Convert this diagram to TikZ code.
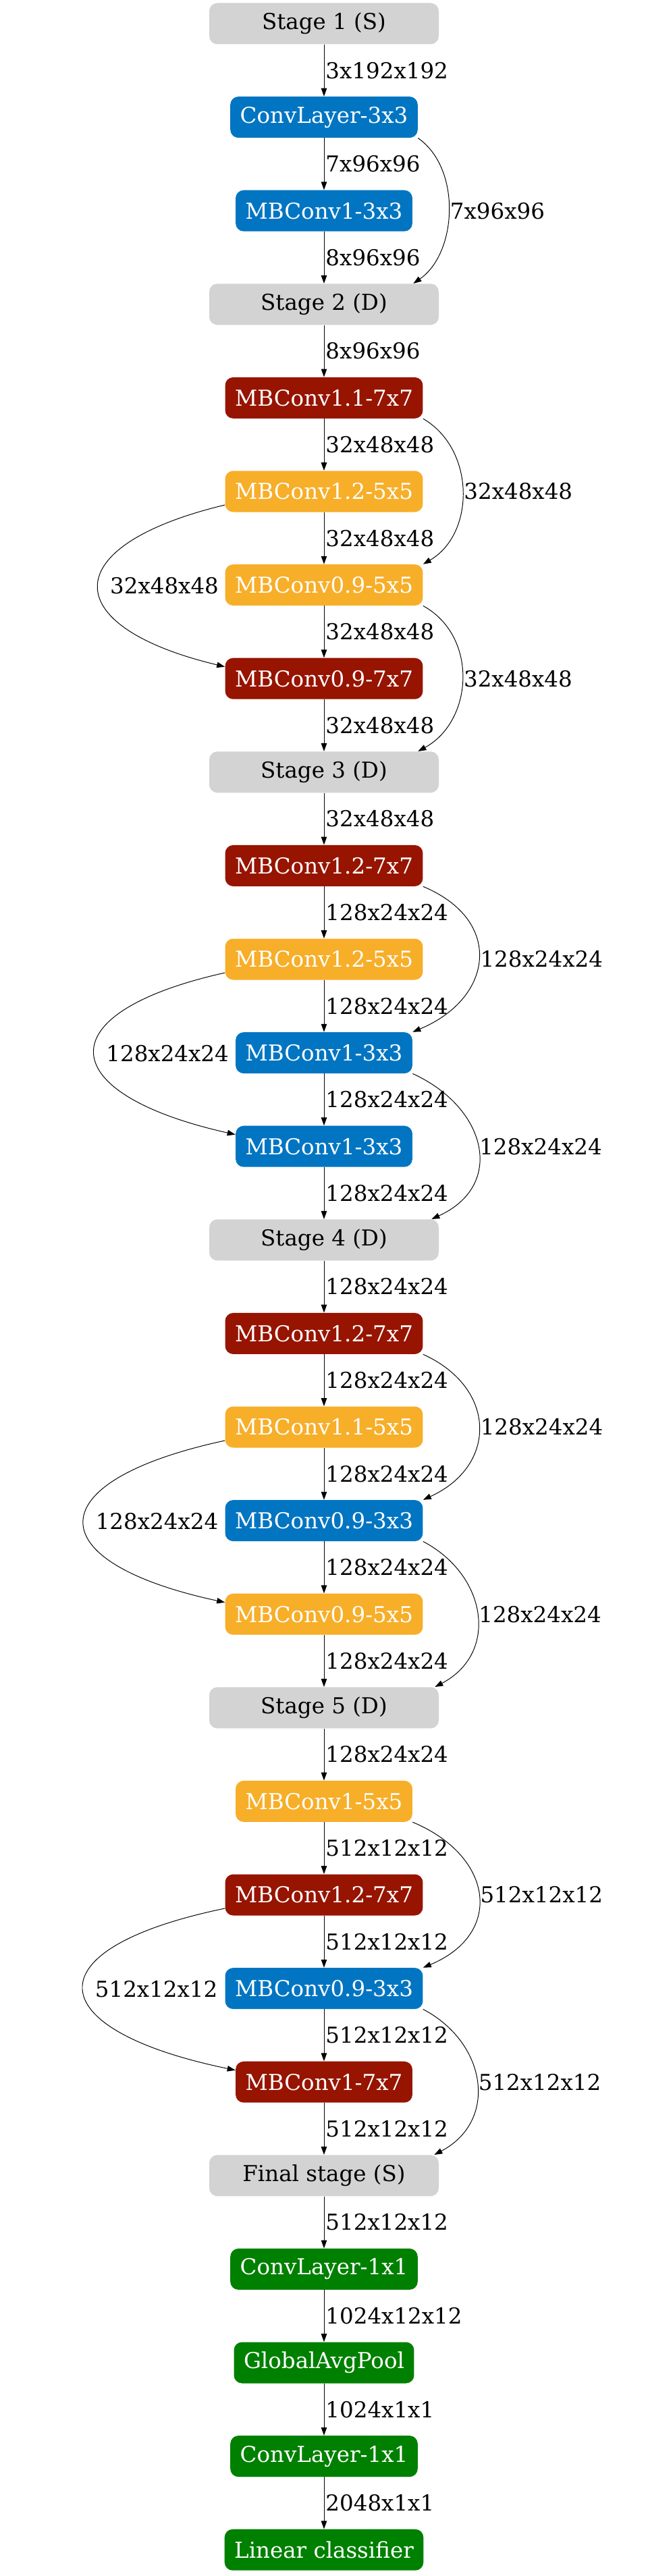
\documentclass[tikz,border=0pt]{standalone}
\usepackage{fontspec}
\setmainfont{DejaVu Serif}
\usepackage{xcolor}
\usepackage{tikz}
\definecolor{stagegray}{RGB}{211, 211, 211}
\definecolor{convblue}{RGB}{2, 117, 194}
\definecolor{convred}{RGB}{150, 20, 0}
\definecolor{convorange}{RGB}{247, 174, 41}
\definecolor{headgreen}{RGB}{0, 128, 0}
\usetikzlibrary{arrows.meta,positioning,calc}

\begin{document}
\begin{tikzpicture}[
    stage/.style={
        rectangle,
        rounded corners=0.24cm,
        minimum width=6.8cm,
        minimum height=1.22cm,
        fill=stagegray,
        font=\fontsize{18.5}{22}\selectfont
    },
    block/.style={
        rectangle,
        rounded corners=0.24cm,
        minimum height=1.22cm,
        inner xsep=0.29cm,
        text=white,
        font=\fontsize{18.5}{22}\selectfont
    },
    flow/.style={-{Triangle[length=0.24cm,width=0.17cm]}, line width=0.55pt},
    dims/.style={inner sep=0.04cm, font=\fontsize{18.5}{22}\selectfont}
]
    \useasboundingbox (0,0) rectangle (19.2,-76.32);

    % Stage 1
    \node[stage] (s1) at (9.6,-0.7) {Stage 1 (S)};
    \node[block, fill=convblue] (conv3) at (9.6,-3.472) {ConvLayer-3x3};
    \node[block, fill=convblue] (mb2) at (9.6,-6.244) {MBConv1-3x3};

    % Stage 2
    \node[stage] (s2) at (9.6,-9.016) {Stage 2 (D)};
    \node[block, fill=convred] (mb4) at (9.6,-11.788) {MBConv1.1-7x7};
    \node[block, fill=convorange] (mb5) at (9.6,-14.56) {MBConv1.2-5x5};
    \node[block, fill=convorange] (mb6) at (9.6,-17.332) {MBConv0.9-5x5};
    \node[block, fill=convred] (mb7) at (9.6,-20.104) {MBConv0.9-7x7};

    % Stage 3
    \node[stage] (s3) at (9.6,-22.876) {Stage 3 (D)};
    \node[block, fill=convred] (mb9) at (9.6,-25.648) {MBConv1.2-7x7};
    \node[block, fill=convorange] (mb10) at (9.6,-28.42) {MBConv1.2-5x5};
    \node[block, fill=convblue] (mb11) at (9.6,-31.192) {MBConv1-3x3};
    \node[block, fill=convblue] (mb12) at (9.6,-33.964) {MBConv1-3x3};

    % Stage 4
    \node[stage] (s4) at (9.6,-36.736) {Stage 4 (D)};
    \node[block, fill=convred] (mb14) at (9.6,-39.508) {MBConv1.2-7x7};
    \node[block, fill=convorange] (mb15) at (9.6,-42.28) {MBConv1.1-5x5};
    \node[block, fill=convblue] (mb16) at (9.6,-45.052) {MBConv0.9-3x3};
    \node[block, fill=convorange] (mb17) at (9.6,-47.824) {MBConv0.9-5x5};

    % Stage 5
    \node[stage] (s5) at (9.6,-50.596) {Stage 5 (D)};
    \node[block, fill=convorange] (mb19) at (9.6,-53.368) {MBConv1-5x5};
    \node[block, fill=convred] (mb20) at (9.6,-56.14) {MBConv1.2-7x7};
    \node[block, fill=convblue] (mb21) at (9.6,-58.912) {MBConv0.9-3x3};
    \node[block, fill=convred] (mb22) at (9.6,-61.684) {MBConv1-7x7};

    % Final stage and head
    \node[stage] (sf) at (9.6,-64.456) {Final stage (S)};
    \node[block, fill=headgreen] (conv1a) at (9.6,-67.228) {ConvLayer-1x1};
    \node[block, fill=headgreen] (pool) at (9.6,-70.0) {GlobalAvgPool};
    \node[block, fill=headgreen] (conv1b) at (9.6,-72.772) {ConvLayer-1x1};
    \node[block, fill=headgreen] (fc) at (9.6,-75.544) {Linear classifier};

    % Main chain
    \draw[flow] (s1) -- (conv3) node[midway, right, dims] {3x192x192};
    \draw[flow] (conv3) -- (mb2) node[midway, right, dims] {7x96x96};
    \draw[flow] (mb2) -- (s2) node[midway, right, dims] {8x96x96};
    \draw[flow] (s2) -- (mb4) node[midway, right, dims] {8x96x96};
    \draw[flow] (mb4) -- (mb5) node[midway, right, dims] {32x48x48};
    \draw[flow] (mb5) -- (mb6) node[midway, right, dims] {32x48x48};
    \draw[flow] (mb6) -- (mb7) node[midway, right, dims] {32x48x48};
    \draw[flow] (mb7) -- (s3) node[midway, right, dims] {32x48x48};
    \draw[flow] (s3) -- (mb9) node[midway, right, dims] {32x48x48};
    \draw[flow] (mb9) -- (mb10) node[midway, right, dims] {128x24x24};
    \draw[flow] (mb10) -- (mb11) node[midway, right, dims] {128x24x24};
    \draw[flow] (mb11) -- (mb12) node[midway, right, dims] {128x24x24};
    \draw[flow] (mb12) -- (s4) node[midway, right, dims] {128x24x24};
    \draw[flow] (s4) -- (mb14) node[midway, right, dims] {128x24x24};
    \draw[flow] (mb14) -- (mb15) node[midway, right, dims] {128x24x24};
    \draw[flow] (mb15) -- (mb16) node[midway, right, dims] {128x24x24};
    \draw[flow] (mb16) -- (mb17) node[midway, right, dims] {128x24x24};
    \draw[flow] (mb17) -- (s5) node[midway, right, dims] {128x24x24};
    \draw[flow] (s5) -- (mb19) node[midway, right, dims] {128x24x24};
    \draw[flow] (mb19) -- (mb20) node[midway, right, dims] {512x12x12};
    \draw[flow] (mb20) -- (mb21) node[midway, right, dims] {512x12x12};
    \draw[flow] (mb21) -- (mb22) node[midway, right, dims] {512x12x12};
    \draw[flow] (mb22) -- (sf) node[midway, right, dims] {512x12x12};
    \draw[flow] (sf) -- (conv1a) node[midway, right, dims] {512x12x12};
    \draw[flow] (conv1a) -- (pool) node[midway, right, dims] {1024x12x12};
    \draw[flow] (pool) -- (conv1b) node[midway, right, dims] {1024x1x1};
    \draw[flow] (conv1b) -- (fc) node[midway, right, dims] {2048x1x1};

    % Skips on the right
    \draw[flow] (conv3.south east) .. controls +(1.3,-0.9) and +(1.3,0.9) .. ([xshift=-0.76cm]s2.north east) node[midway, right, dims] {7x96x96};
    \draw[flow] (mb4.south east) .. controls +(1.55,-0.9) and +(1.55,0.9) .. (mb6.north east) node[midway, right, dims] {32x48x48};
    \draw[flow] (mb6.south east) .. controls +(1.64,-0.9) and +(1.64,0.9) .. ([xshift=-0.62cm]s3.north east) node[midway, right, dims] {32x48x48};
    \draw[flow] (mb9.south east) .. controls +(2.4,-1.0) and +(2.4,1.0) .. (mb11.north east) node[midway, right, dims] {128x24x24};
    \draw[flow] (mb11.south east) .. controls +(2.2,-1.0) and +(2.2,1.0) .. ([xshift=-0.22cm]s4.north east) node[midway, right, dims] {128x24x24};
    \draw[flow] (mb14.south east) .. controls +(2.2,-1.0) and +(2.2,1.0) .. (mb16.north east) node[midway, right, dims] {128x24x24};
    \draw[flow] (mb16.south east) .. controls +(1.9,-1.0) and +(1.9,1.0) .. ([xshift=-0.12cm]s5.north east) node[midway, right, dims] {128x24x24};
    \draw[flow] (mb19.south east) .. controls +(2.4,-1.0) and +(2.4,1.0) .. (mb21.north east) node[midway, right, dims] {512x12x12};
    \draw[flow] (mb21.south east) .. controls +(1.9,-1.0) and +(1.9,1.0) .. ([xshift=-0.14cm]sf.north east) node[midway, right, dims] {512x12x12};

    % Skips on the left
    \draw[flow] ([yshift=-0.4cm]mb5.west) .. controls +(-5.0,-1.2) and +(-5.0,1.2) .. ([yshift=0.35cm]mb7.west) node[midway, right=0.3cm, dims] {32x48x48};
    \draw[flow] ([yshift=-0.4cm]mb10.west) .. controls +(-5.36,-1.2) and +(-5.36,1.2) .. ([yshift=0.35cm]mb12.west) node[midway, right=0.3cm, dims] {128x24x24};
    \draw[flow] ([yshift=-0.4cm]mb15.west) .. controls +(-5.57,-1.2) and +(-5.57,1.2) .. ([yshift=0.35cm]mb17.west) node[midway, right=0.3cm, dims] {128x24x24};
    \draw[flow] ([yshift=-0.4cm]mb20.west) .. controls +(-5.8,-1.2) and +(-5.8,1.2) .. ([yshift=0.35cm]mb22.west) node[midway, right=0.3cm, dims] {512x12x12};
\end{tikzpicture}
\end{document}
